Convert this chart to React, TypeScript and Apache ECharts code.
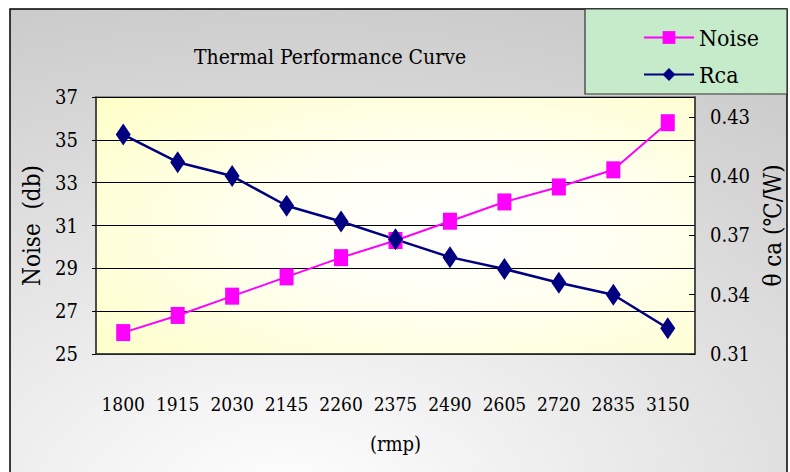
import React, { useEffect, useRef } from "react";
import * as echarts from "echarts";

const categories = ["1800", "1915", "2030", "2145", "2260", "2375", "2490", "2605", "2720", "2835", "3150"];
const noiseValues = [26.0, 26.8, 27.7, 28.6, 29.5, 30.3, 31.2, 32.1, 32.8, 33.6, 35.8];
const rcaValues = [0.421, 0.407, 0.4, 0.385, 0.377, 0.368, 0.359, 0.353, 0.346, 0.34, 0.323];
const rightTicks = [0.31, 0.34, 0.37, 0.4, 0.43];

const FONT = "DejaVu Serif Condensed, DejaVu Serif, serif";

export default function App() {
  const ref = useRef<HTMLDivElement>(null);
  useEffect(() => {
    if (!ref.current) return;
    const chart = echarts.init(ref.current, null, { renderer: "svg" });
    chart.setOption({
      animation: false,
      textStyle: { fontFamily: FONT, color: "#000" },
      title: {
        text: "Thermal Performance Curve",
        left: 325,
        top: 41,
        textAlign: "center",
        textStyle: { fontFamily: FONT, fontSize: 21, fontWeight: "normal", color: "#000" },
      },
      graphic: [
        {
          type: "rect",
          z: -10,
          shape: { x: 10, y: 9, width: 777, height: 470 },
          style: {
            fill: new echarts.graphic.RadialGradient(0.35, 1.05, 1.4, [
              { offset: 0, color: "#ffffff" },
              { offset: 1, color: "#bdbdbd" },
            ]),
            stroke: "#000",
            lineWidth: 1.5,
          },
        },
        {
          type: "rect",
          z: -5,
          shape: { x: 585, y: 9, width: 202, height: 85 },
          style: { fill: "#c6ebcb", stroke: "#333", lineWidth: 1.2 },
        },
      ],
      legend: {
        orient: "vertical",
        left: 638,
        top: 21,
        itemWidth: 50,
        itemHeight: 16,
        itemGap: 14,
        textStyle: { fontFamily: FONT, fontSize: 23, color: "#000" },
        data: ["Noise", "Rca"],
      },
      grid: {
        left: 96,
        right: 95,
        top: 97,
        bottom: 118,
        outerBoundsMode: "none",
        show: true,
        borderColor: "#7a7a7a",
        borderWidth: 1.5,
        backgroundColor: new echarts.graphic.RadialGradient(0.59, 0.52, 1.3, [
          { offset: 0, color: "#ffffff" },
          { offset: 0.25, color: "#fffff0" },
          { offset: 1, color: "#ffff99" },
        ]),
      },
      xAxis: {
        type: "category",
        data: categories,
        boundaryGap: true,
        axisLine: { lineStyle: { color: "#333", width: 1.5 } },
        axisTick: { inside: true, length: 7, lineStyle: { color: "#000" } },
        axisLabel: { interval: 0, margin: 40, fontFamily: FONT, fontSize: 19, color: "#000" },
        name: "(rmp)",
        nameLocation: "middle",
        nameGap: 80,
        nameTextStyle: { fontFamily: FONT, fontSize: 20, color: "#000" },
      },
      yAxis: [
        {
          type: "value",
          min: 25,
          max: 37,
          interval: 2,
          axisLine: { show: true, lineStyle: { color: "#333", width: 1.5 } },
          axisTick: { show: true, length: 4, lineStyle: { color: "#000" } },
          splitLine: { show: true, lineStyle: { color: "#000", width: 1 } },
          axisLabel: { margin: 18, fontFamily: FONT, fontSize: 20, color: "#000" },
          name: "Noise  (db)",
          nameLocation: "middle",
          nameGap: 44,
          nameTextStyle: { fontFamily: FONT, fontSize: 24, color: "#000" },
        },
        {
          type: "value",
          position: "right",
          min: 0.31,
          max: 0.44,
          axisLine: { show: true, lineStyle: { color: "#333", width: 1.5 } },
          axisTick: { show: true, inside: true, length: 6, customValues: rightTicks, lineStyle: { color: "#000" } },
          splitLine: { show: false },
          axisLabel: {
            margin: 15,
            customValues: rightTicks,
            fontFamily: FONT,
            fontSize: 20,
            color: "#000",
            formatter: (v: number) => v.toFixed(2),
          },
          name: "θ ca (℃/W)",
          nameLocation: "middle",
          nameGap: 57,
          nameTextStyle: { fontFamily: FONT, fontSize: 24, color: "#000" },
        },
      ],
      series: [
        {
          name: "Noise",
          type: "line",
          yAxisIndex: 0,
          data: noiseValues,
          symbol: "rect",
          symbolSize: [14, 17],
          itemStyle: { color: "#ff00ff" },
          lineStyle: { color: "#ff00ff", width: 2 },
        },
        {
          name: "Rca",
          type: "line",
          yAxisIndex: 1,
          data: rcaValues,
          symbol: "diamond",
          symbolSize: [15, 22],
          itemStyle: { color: "#000080" },
          lineStyle: { color: "#000080", width: 2.5 },
        },
      ],
    });
    return () => chart.dispose();
  }, []);
  return (
    <div
      ref={ref}
      style={{ position: "absolute", left: 0, top: 0, width: 790, height: 472, background: "#fff" }}
    />
  );
}
